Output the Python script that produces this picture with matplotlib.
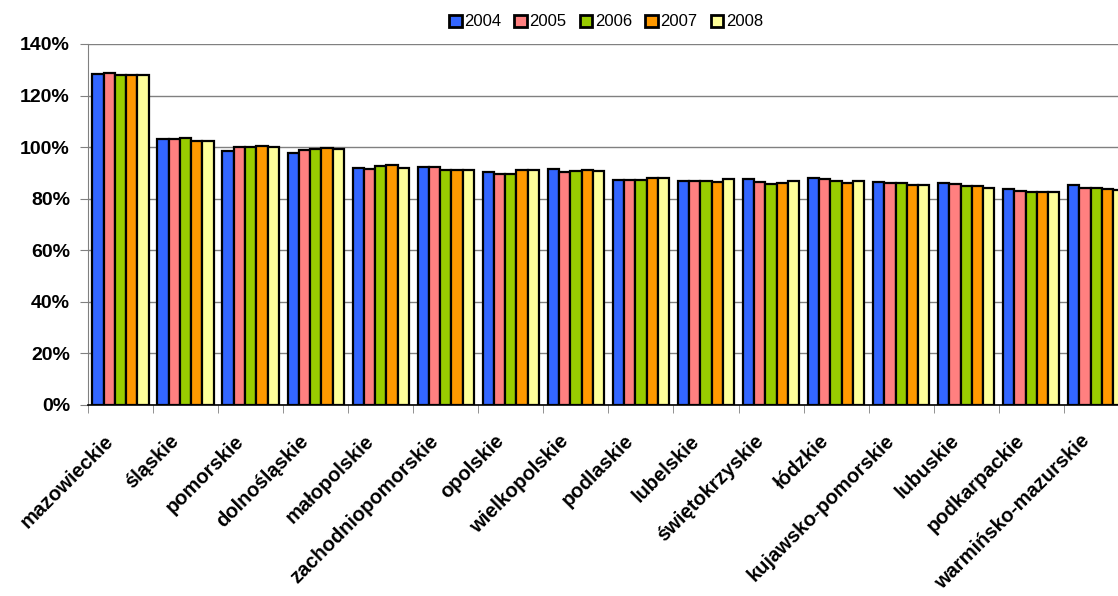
import matplotlib
matplotlib.use("Agg")
import matplotlib.pyplot as plt
import matplotlib.transforms as mtransforms
from matplotlib.ticker import FixedLocator, PercentFormatter
import numpy as np

plt.rcParams['font.family'] = ['Liberation Sans', 'DejaVu Sans']

regions = ["mazowieckie", "śląskie", "pomorskie", "dolnośląskie", "małopolskie",
           "zachodniopomorskie", "opolskie", "wielkopolskie", "podlaskie", "lubelskie",
           "świętokrzyskie", "łódzkie", "kujawsko-pomorskie", "lubuskie", "podkarpackie",
           "warmińsko-mazurskie"]
years = ["2004", "2005", "2006", "2007", "2008"]

v2004 = [128.4, 103.3, 98.5, 97.8, 91.9, 92.3, 90.5, 91.5, 87.2, 86.9, 87.8, 87.9, 86.3, 86.0, 83.8, 85.3]
v2005 = [128.6, 103.1, 100.0, 98.9, 91.5, 92.2, 89.6, 90.3, 87.2, 86.9, 86.6, 87.5, 86.0, 85.6, 83.0, 84.0]
v2006 = [128.1, 103.5, 100.2, 99.4, 92.8, 91.0, 89.7, 90.6, 87.2, 86.8, 85.8, 86.9, 86.1, 84.9, 82.6, 84.1]
v2007 = [128.0, 102.2, 100.3, 99.7, 93.1, 91.0, 91.1, 91.1, 87.9, 86.5, 85.9, 85.9, 85.3, 84.9, 82.6, 83.8]
v2008 = [127.8, 102.5, 100.1, 99.3, 91.9, 91.0, 91.1, 90.6, 87.9, 87.6, 86.7, 86.7, 85.3, 84.0, 82.6, 83.2]
series = [v2004, v2005, v2006, v2007, v2008]
colors = ["#3366FF", "#FF8080", "#99CC00", "#FF9900", "#FFFF99"]

fig = plt.figure(figsize=(11.18, 5.96), dpi=100)
ax = fig.add_axes([0.0787, 0.3205, 0.931, 0.6057])

x = np.arange(len(regions))
w = 0.173
for j, (vals, c, yr) in enumerate(zip(series, colors, years)):
    ax.bar(x + (j - 2) * w, vals, width=w, color=c, edgecolor='black',
           linewidth=1.6, label=yr, zorder=3)

ax.set_xlim(-0.5, len(regions) - 0.5)
ax.set_ylim(0, 140)
ax.set_yticks(np.arange(0, 141, 20))
ax.yaxis.set_major_formatter(PercentFormatter(decimals=0))
ax.grid(axis='y', color='#808080', linewidth=1.0, zorder=0)

for s in ['top', 'right']:
    ax.spines[s].set_visible(False)
ax.spines['left'].set_color('#808080')
ax.spines['bottom'].set_color('black')
ax.spines['bottom'].set_linewidth(1.2)

ax.tick_params(axis='y', length=6, color='#808080', labelsize=14, pad=7)
for lab in ax.get_yticklabels():
    lab.set_fontweight('bold')

ax.set_xticks(x)
ax.set_xticklabels(regions, rotation=45, ha='right', va='center',
                   rotation_mode='anchor', fontsize=14.5, fontweight='bold')
ax.xaxis.set_minor_locator(FixedLocator(np.arange(len(regions) + 1) - 0.5))
ax.tick_params(axis='x', which='major', length=0, pad=0)
ax.tick_params(axis='x', which='minor', length=6, color='#808080')
offset = mtransforms.ScaledTranslation(-10 / 100, -33 / 100, fig.dpi_scale_trans)
for lab in ax.get_xticklabels():
    lab.set_transform(lab.get_transform() + offset)

leg = fig.legend(loc='center', bbox_to_anchor=(606 / 1118, 1 - 22 / 596), ncol=5,
                 frameon=False, fontsize=12, handlelength=0.75, handleheight=0.75,
                 handletextpad=0.15, columnspacing=0.8)
for p in leg.get_patches():
    p.set_linewidth(2.0)

fig.savefig("out.png", dpi=100)
